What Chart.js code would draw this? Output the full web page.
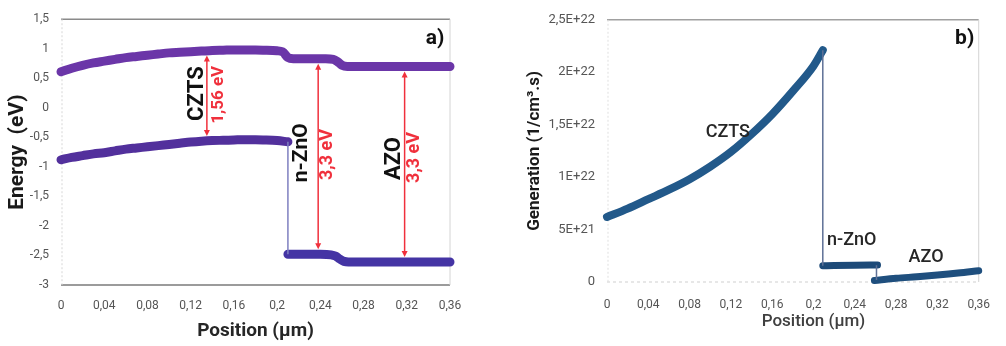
<!DOCTYPE html>
<html><head><meta charset="utf-8">
<script src="https://cdn.jsdelivr.net/npm/chart.js@4.4.1/dist/chart.umd.min.js"></script>
<style>
html,body{margin:0;padding:0;background:#fff;width:1006px;height:346px;overflow:hidden}
#wa{position:absolute;left:0;top:0;width:480px;height:346px}
#wb{position:absolute;left:490px;top:0;width:516px;height:346px}
</style></head><body>
<div id="wa"><canvas id="ca" width="480" height="346"></canvas></div>
<div id="wb"><canvas id="cb" width="516" height="346"></canvas></div>
<script>
// ---------- tick labels ----------
const positionTicks = [0, 0.04, 0.08, 0.12, 0.16, 0.2, 0.24, 0.28, 0.32, 0.36];
const positionTickLabels = ['0', '0,04', '0,08', '0,12', '0,16', '0,2', '0,24', '0,28', '0,32', '0,36'];
const energyTicks = [-3, -2.5, -2, -1.5, -1, -0.5, 0, 0.5, 1, 1.5];
const energyTickLabels = ['-3', '-2,5', '-2', '-1,5', '-1', '-0,5', '0', '0,5', '1', '1,5'];
const genTicks = [0, 5e21, 1e22, 1.5e22, 2e22, 2.5e22];
const genTickLabels = ['0', '5E+21', '1E+22', '1,5E+22', '2E+22', '2,5E+22'];

// ---------- panel a : band diagram ----------
const cbPos = [0, 0.01, 0.02, 0.03, 0.04, 0.05, 0.06, 0.07, 0.08, 0.09, 0.10, 0.11, 0.12, 0.13, 0.14, 0.15, 0.16, 0.17, 0.18, 0.19, 0.20, 0.205, 0.21, 0.215, 0.23, 0.245, 0.252, 0.256, 0.26, 0.265, 0.28, 0.30, 0.32, 0.34, 0.36];
const cbEnergy = [0.61, 0.67, 0.72, 0.76, 0.79, 0.82, 0.85, 0.87, 0.89, 0.91, 0.93, 0.94, 0.95, 0.96, 0.97, 0.975, 0.98, 0.98, 0.98, 0.975, 0.965, 0.95, 0.85, 0.83, 0.83, 0.83, 0.82, 0.78, 0.72, 0.70, 0.70, 0.70, 0.70, 0.70, 0.70];
const vbCztsPos = [0, 0.01, 0.02, 0.03, 0.04, 0.05, 0.06, 0.07, 0.08, 0.09, 0.10, 0.11, 0.12, 0.13, 0.14, 0.15, 0.16, 0.17, 0.18, 0.19, 0.20, 0.21];
const vbCztsEnergy = [-0.88, -0.84, -0.81, -0.78, -0.76, -0.73, -0.70, -0.68, -0.66, -0.64, -0.62, -0.60, -0.58, -0.565, -0.555, -0.55, -0.545, -0.54, -0.54, -0.545, -0.555, -0.575];
const vbStepPos = [0.21, 0.21];
const vbStepEnergy = [-0.575, -2.48];
const vbOxidePos = [0.21, 0.22, 0.23, 0.24, 0.25, 0.254, 0.258, 0.262, 0.266, 0.28, 0.30, 0.32, 0.34, 0.36];
const vbOxideEnergy = [-2.48, -2.48, -2.48, -2.48, -2.49, -2.51, -2.56, -2.60, -2.61, -2.61, -2.61, -2.61, -2.61, -2.61];

const layerNames = ['CZTS', 'n-ZnO', 'AZO'];
const gapLabels = ['1,56 eV', '3,3 eV', '3,3 eV'];
const gapPos = [0.135, 0.238, 0.318];
const gapTop = [0.97, 0.83, 0.70];
const gapBottom = [-0.56, -2.48, -2.61];

// ---------- panel b : generation ----------
const genCztsPos = [0, 0.02, 0.04, 0.06, 0.08, 0.10, 0.12, 0.14, 0.16, 0.18, 0.20, 0.209];
const genCzts = [6.2e21, 7.0e21, 7.9e21, 8.8e21, 9.8e21, 1.10e22, 1.24e22, 1.41e22, 1.60e22, 1.82e22, 2.06e22, 2.21e22];
const genStepPos = [0.209, 0.209];
const genStep = [2.21e22, 1.55e21];
const genZnoPos = [0.209, 0.22, 0.24, 0.262];
const genZno = [1.55e21, 1.57e21, 1.60e21, 1.62e21];
const genStep2Pos = [0.261, 0.261];
const genStep2 = [1.6e21, 0.2e21];
const genAzoPos = [0.259, 0.28, 0.30, 0.32, 0.34, 0.36];
const genAzo = [0.15e21, 0.35e21, 0.50e21, 0.66e21, 0.85e21, 1.08e21];

// ---------- helpers ----------
const pts = (xs, ys) => xs.map((x, i) => ({x: x, y: ys[i]}));
const labelFor = (v, vals, labels) => {
  let best = 0;
  for (let i = 1; i < vals.length; i++) if (Math.abs(vals[i] - v) < Math.abs(vals[best] - v)) best = i;
  return labels[best];
};
const setTicks = vals => s => { s.ticks = vals.map(v => ({value: v})); };
const FONT = 'Roboto';

function thick(data, color, w) {
  return {data: data, showLine: true, borderColor: color, backgroundColor: color, borderWidth: w,
    pointRadius: 0, borderCapStyle: 'round', borderJoinStyle: 'round', cubicInterpolationMode: 'monotone', clip: false};
}
function thin(data, color) {
  return {data: data, showLine: true, borderColor: color, borderWidth: 1.5, pointRadius: 0, clip: false};
}
function hline(ctx, x1, x2, y, color, w, dash) {
  ctx.save(); ctx.strokeStyle = color; ctx.lineWidth = w; ctx.setLineDash(dash || []);
  ctx.beginPath(); ctx.moveTo(x1, y); ctx.lineTo(x2, y); ctx.stroke(); ctx.restore();
}
function vline(ctx, x, y1, y2, color, w, dash) {
  ctx.save(); ctx.strokeStyle = color; ctx.lineWidth = w; ctx.setLineDash(dash || []);
  ctx.beginPath(); ctx.moveTo(x, y1); ctx.lineTo(x, y2); ctx.stroke(); ctx.restore();
}
function rotText(ctx, text, x, y, font, color) {
  ctx.save(); ctx.translate(x, y); ctx.rotate(-Math.PI / 2);
  ctx.font = font; ctx.fillStyle = color; ctx.textAlign = 'center'; ctx.textBaseline = 'middle';
  ctx.fillText(text, 0, 0); ctx.restore();
}
function text(ctx, t, x, y, font, color) {
  ctx.save(); ctx.font = font; ctx.fillStyle = color; ctx.textAlign = 'center'; ctx.textBaseline = 'middle';
  ctx.fillText(t, x, y); ctx.restore();
}
function arrowV(ctx, x, y1, y2, color) {
  ctx.save(); ctx.strokeStyle = color; ctx.fillStyle = color; ctx.lineWidth = 1.5;
  ctx.beginPath(); ctx.moveTo(x, y1 + 4); ctx.lineTo(x, y2 - 4); ctx.stroke();
  ctx.beginPath(); ctx.moveTo(x, y1); ctx.lineTo(x - 3, y1 + 6); ctx.lineTo(x + 3, y1 + 6); ctx.closePath(); ctx.fill();
  ctx.beginPath(); ctx.moveTo(x, y2); ctx.lineTo(x - 3, y2 - 6); ctx.lineTo(x + 3, y2 - 6); ctx.closePath(); ctx.fill();
  ctx.restore();
}

// annotation placement (data coordinates)
const annotA = {
  layer: [{x: 0.126, y: 0.24, size: 22}, {x: 0.223, y: -0.76, size: 21}, {x: 0.309, y: -0.86, size: 22}],
  gap: [{x: 0.146, y: 0.22, size: 17}, {x: 0.247, y: -0.79, size: 18}, {x: 0.327, y: -0.84, size: 18}]
};
const annotB = [{x: 0.117, y: 1.43e22}, {x: 0.237, y: 4.0e21}, {x: 0.309, y: 2.3e21}];

const framePluginA = {
  id: 'frameA',
  beforeDatasetsDraw(chart) {
    const {ctx, chartArea: a} = chart;
    hline(ctx, a.left, a.right, a.top, '#8a8a8a', 1.5);
    hline(ctx, a.left, a.right, a.bottom, '#7a7a7a', 1.5);
    vline(ctx, a.right, a.top, a.bottom, '#d4d4d4', 1);
    vline(ctx, a.left + 1, a.top, a.bottom, '#d8d8d8', 1, [2, 2]);
  },
  afterDatasetsDraw(chart) {
    const {ctx, chartArea: a} = chart;
    const xs = chart.scales.x, ys = chart.scales.y;
    for (let i = 0; i < gapPos.length; i++) {
      const x = xs.getPixelForValue(gapPos[i]);
      arrowV(ctx, x, ys.getPixelForValue(gapTop[i]) + 5, ys.getPixelForValue(gapBottom[i]) - 5, '#f0303c');
      const L = annotA.layer[i], G = annotA.gap[i];
      rotText(ctx, layerNames[i], xs.getPixelForValue(L.x), ys.getPixelForValue(L.y), 'bold ' + L.size + 'px ' + FONT, '#111');
      rotText(ctx, gapLabels[i], xs.getPixelForValue(G.x), ys.getPixelForValue(G.y), 'bold ' + G.size + 'px ' + FONT, '#f0303c');
    }
    text(ctx, 'a)', a.right - 15, a.top + 20, 'bold 21px ' + FONT, '#111');
  }
};

const framePluginB = {
  id: 'frameB',
  beforeDatasetsDraw(chart) {
    const {ctx, chartArea: a} = chart;
    hline(ctx, a.left, a.right, a.top, '#a0a0a0', 1.5);
    hline(ctx, a.left, a.right, a.bottom, '#cfcfcf', 1, [3, 3]);
    vline(ctx, a.right, a.top, a.bottom, '#d4d4d4', 1);
    vline(ctx, a.left + 1, a.top, a.bottom, '#e0e0e0', 1, [2, 2]);
  },
  afterDatasetsDraw(chart) {
    const {ctx, chartArea: a} = chart;
    const xs = chart.scales.x, ys = chart.scales.y;
    for (let i = 0; i < layerNames.length; i++) {
      text(ctx, layerNames[i], xs.getPixelForValue(annotB[i].x), ys.getPixelForValue(annotB[i].y), '500 18px ' + FONT, '#262626');
    }
    text(ctx, 'b)', a.right - 14, a.top + 19, 'bold 21px ' + FONT, '#111');
    text(ctx, 'Position (µm)', xs.getPixelForValue(0.2), 322, '500 17px ' + FONT, '#404040');
  }
};

const common = {responsive: false, animation: false, plugins: {legend: {display: false}, tooltip: {enabled: false}}};

new Chart(document.getElementById('ca'), {
  type: 'scatter',
  data: {datasets: [
    thick(pts(cbPos, cbEnergy), '#6b36a8', 9),
    thin(pts(vbStepPos, vbStepEnergy), '#7f80c0'),
    thick(pts(vbCztsPos, vbCztsEnergy), '#52309c', 9),
    thick(pts(vbOxidePos, vbOxideEnergy), '#4434a4', 9)
  ]},
  options: Object.assign({}, common, {
    layout: {padding: {left: 0, right: 30, top: 14, bottom: 0}},
    scales: {
      x: {type: 'linear', min: 0, max: 0.36, afterBuildTicks: setTicks(positionTicks),
        ticks: {callback: v => labelFor(v, positionTicks, positionTickLabels), font: {family: FONT, size: 12}, color: '#555', padding: 14, maxRotation: 0, autoSkip: false},
        grid: {display: false, drawTicks: false}, border: {display: false},
        title: {display: true, text: 'Position (µm)', font: {family: FONT, size: 19, weight: 'bold'}, color: '#262626', padding: {top: 0, bottom: 3}},
        afterFit: s => { s.height = 61; }},
      y: {type: 'linear', min: -3, max: 1.5, afterBuildTicks: setTicks(energyTicks),
        ticks: {callback: v => labelFor(v, energyTicks, energyTickLabels), font: {family: FONT, size: 12}, color: '#555', padding: 12, autoSkip: false},
        grid: {display: false, drawTicks: false}, border: {display: false},
        title: {display: true, text: 'Energy  (eV)', font: {family: FONT, size: 21, weight: 'bold'}, color: '#1a1a1a', padding: {top: 5, bottom: 0}},
        afterFit: s => { s.width = 61; }}
    }
  }),
  plugins: [framePluginA]
});

new Chart(document.getElementById('cb'), {
  type: 'scatter',
  data: {datasets: [
    thin(pts(genStepPos, genStep), '#5f7196'),
    thin(pts(genStep2Pos, genStep2), '#5f7196'),
    thick(pts(genCztsPos, genCzts), '#22598a', 8),
    thick(pts(genZnoPos, genZno), '#1d4a78', 7),
    thick(pts(genAzoPos, genAzo), '#1f4f7e', 7)
  ]},
  options: Object.assign({}, common, {
    layout: {padding: {left: 0, right: 19, top: 10, bottom: 0}},
    scales: {
      x: {type: 'linear', min: 0, max: 0.36, afterBuildTicks: setTicks(positionTicks),
        ticks: {callback: v => labelFor(v, positionTicks, positionTickLabels), font: {family: FONT, size: 12}, color: '#555', padding: 16, maxRotation: 0, autoSkip: false},
        grid: {display: false, drawTicks: false}, border: {display: false},
        afterFit: s => { s.height = 64; }},
      y: {type: 'linear', min: 0, max: 2.5e22, afterBuildTicks: setTicks(genTicks),
        ticks: {callback: v => labelFor(v, genTicks, genTickLabels), font: {family: FONT, size: 13}, color: '#555', padding: 12, autoSkip: false},
        grid: {display: false, drawTicks: false}, border: {display: false},
        title: {display: true, text: 'Generation (1/cm³.s)', font: {family: FONT, size: 17, weight: 'bold'}, color: '#1a1a1a', padding: {top: 35, bottom: 0}},
        afterFit: s => { s.width = 117; }}
    }
  }),
  plugins: [framePluginB]
});
</script>
</body></html>
